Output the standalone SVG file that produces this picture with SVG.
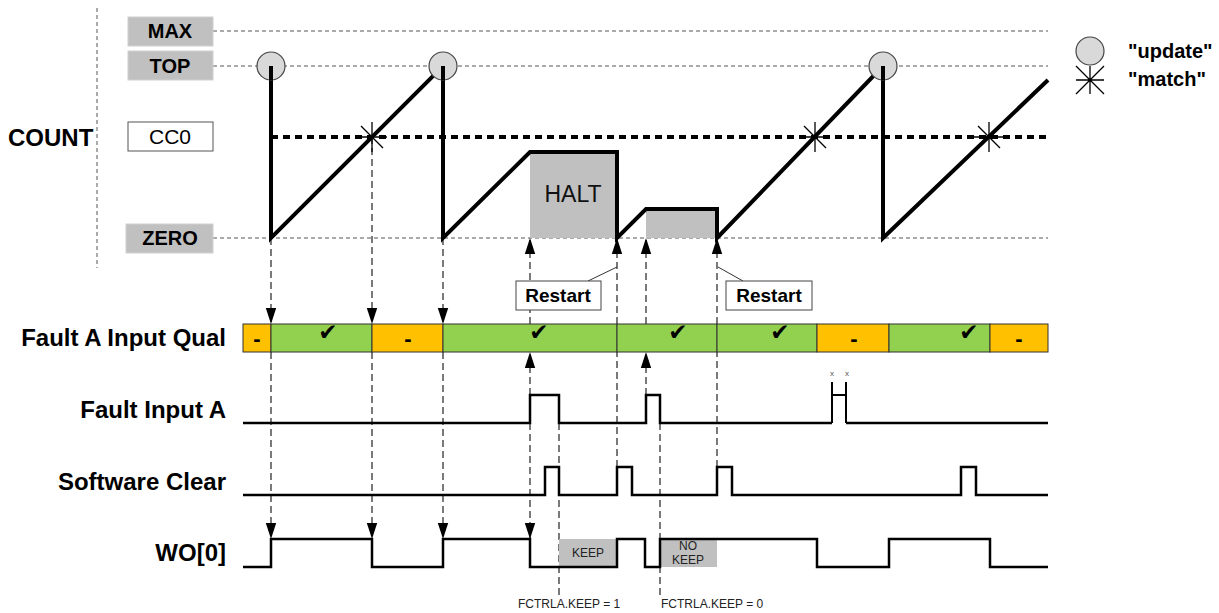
<svg xmlns="http://www.w3.org/2000/svg" width="1219" height="613" viewBox="0 0 1219 613">
<defs>
<marker id="ah" markerUnits="userSpaceOnUse" markerWidth="17" markerHeight="12" refX="16" refY="6" orient="auto">
<path d="M0,0.8 L16,6 L0,11.2 z" fill="#000"/>
</marker>
<style>
.ref{stroke:#555;stroke-width:1;stroke-dasharray:4 3;fill:none}
.conn{stroke:#333;stroke-width:1.3;stroke-dasharray:7 4;fill:none}
.wave{stroke:#000;stroke-width:4;fill:none;stroke-linejoin:miter}
.sig{stroke:#000;stroke-width:2.5;fill:none}
.lbl{font-family:"Liberation Sans",Arial,sans-serif;font-weight:bold;font-size:24px;fill:#000;text-anchor:end}
.lvl{font-family:"Liberation Sans",Arial,sans-serif;font-weight:bold;font-size:20px;text-anchor:middle;fill:#000}
.lvbox{fill:#c0c0c0;stroke:#d0d0d0;stroke-width:1}
.upd{fill:#d9d9d9;stroke:#444;stroke-width:1.2}
.star{stroke:#000;stroke-width:1.3}
.grn{fill:#92d050;stroke:#333;stroke-width:1}
.org{fill:#ffc000;stroke:#333;stroke-width:1}
.chk{font-family:"DejaVu Sans",sans-serif;font-size:23px;text-anchor:middle;fill:#000}
.dsh{font-family:"Liberation Sans",Arial,sans-serif;font-weight:bold;font-size:22px;text-anchor:middle;fill:#000}
.rst{fill:#fff;stroke:#444;stroke-width:1}
.rtx{font-family:"Liberation Sans",Arial,sans-serif;font-weight:bold;font-size:19px;text-anchor:middle;fill:#000}
.gray{fill:#c0c0c0}
.sm{font-family:"Liberation Sans",Arial,sans-serif;font-size:12px;fill:#222}
</style>
</defs>
<rect width="1219" height="613" fill="#fff"/>

<g id="axis">
<line x1="97" y1="8" x2="97" y2="268" class="ref"/>
<line x1="213" y1="31" x2="1048" y2="31" class="ref"/>
<line x1="213" y1="66" x2="1048" y2="66" class="ref"/>
<line x1="213" y1="238" x2="1048" y2="238" class="ref"/>
<text x="8" y="146" class="lbl" style="text-anchor:start">COUNT</text>
</g>

<g id="level-max"><rect x="128" y="17" width="85" height="29" class="lvbox"/><text x="170" y="38" class="lvl">MAX</text></g>
<g id="level-top"><rect x="128" y="51" width="85" height="29" class="lvbox"/><text x="170" y="73" class="lvl">TOP</text></g>
<g id="level-cc0"><rect x="128" y="122" width="85" height="29" fill="#fff" stroke="#555" stroke-width="1"/><text x="170" y="144" class="lvl" style="font-weight:normal;font-size:21px">CC0</text></g>
<g id="level-zero"><rect x="126" y="224" width="87" height="29" class="lvbox"/><text x="170" y="245" class="lvl">ZERO</text></g>

<g id="halt-areas">
<rect x="530" y="152" width="87" height="86" class="gray"/>
<text x="573" y="202" font-family="Liberation Sans, Arial, sans-serif" font-size="23" text-anchor="middle" fill="#111">HALT</text>
<rect x="646" y="209" width="71" height="29" class="gray"/>
</g>

<g id="connectors">
<line x1="271" y1="238" x2="271" y2="324" class="conn" marker-end="url(#ah)"/>
<line x1="271" y1="352" x2="271" y2="539" class="conn" marker-end="url(#ah)"/>
<line x1="372" y1="137" x2="372" y2="324" class="conn" marker-end="url(#ah)"/>
<line x1="372" y1="352" x2="372" y2="539" class="conn" marker-end="url(#ah)"/>
<line x1="443" y1="238" x2="443" y2="324" class="conn" marker-end="url(#ah)"/>
<line x1="443" y1="352" x2="443" y2="539" class="conn" marker-end="url(#ah)"/>
<line x1="530" y1="395" x2="530" y2="352" class="conn" marker-end="url(#ah)"/>
<line x1="530" y1="324" x2="530" y2="238" class="conn" marker-end="url(#ah)"/>
<line x1="530" y1="423" x2="530" y2="539" class="conn" marker-end="url(#ah)"/>
<line x1="559" y1="423" x2="559" y2="597" class="conn"/>
<line x1="617" y1="467" x2="617" y2="238" class="conn" marker-end="url(#ah)"/>
<line x1="646" y1="395" x2="646" y2="352" class="conn" marker-end="url(#ah)"/>
<line x1="646" y1="324" x2="646" y2="238" class="conn" marker-end="url(#ah)"/>
<line x1="660" y1="423" x2="660" y2="597" class="conn"/>
<line x1="717" y1="467" x2="717" y2="238" class="conn" marker-end="url(#ah)"/>
<line x1="617" y1="267" x2="588" y2="281" stroke="#333" stroke-width="1"/>
<line x1="718" y1="267" x2="743" y2="281" stroke="#333" stroke-width="1"/>
</g>

<g id="cc0-line">
<line x1="271" y1="137" x2="1048" y2="137" stroke="#000" stroke-width="4" stroke-dasharray="7 5"/>
</g>

<g id="count-wave">
<path class="wave" d="M271,66 L271,238 L443,66 L443,238 L530,152 L617,152 L617,238 L646,209 L717,209 L717,238 L883,66 L883,238 L1048,80"/>
</g>

<g id="updates">
<circle cx="271" cy="66" r="14" class="upd"/>
<circle cx="443" cy="66" r="14" class="upd"/>
<circle cx="883" cy="66" r="14" class="upd"/>
<path d="M271,66 L271,80 M443,66 L443,80 M883,66 L883,80" stroke="#000" stroke-width="4"/>
</g>

<g id="matches">
<path class="star" d="M372,122 V152 M357,137 H387 M361,126 L383,148 M361,148 L383,126"/>
<path class="star" d="M815,122 V152 M800,137 H830 M804,126 L826,148 M804,148 L826,126"/>
<path class="star" d="M989,122 V152 M974,137 H1004 M978,126 L1000,148 M978,148 L1000,126"/>
</g>

<g id="legend">
<circle cx="1090" cy="51" r="14" class="upd"/>
<path class="star" d="M1090,66 V94 M1076,80 H1104 M1076,66 L1104,94 M1076,94 L1104,66"/>
<text x="1128" y="58" font-family="Liberation Sans, Arial, sans-serif" font-weight="bold" font-size="20">"update"</text>
<text x="1128" y="86" font-family="Liberation Sans, Arial, sans-serif" font-weight="bold" font-size="20">"match"</text>
</g>

<g id="restart-1"><rect x="516" y="281" width="85" height="29" class="rst"/><text x="558" y="302" class="rtx">Restart</text></g>
<g id="restart-2"><rect x="726" y="281" width="86" height="29" class="rst"/><text x="769" y="302" class="rtx">Restart</text></g>

<g id="fault-a-input-qual">
<text x="226" y="346" class="lbl">Fault A Input Qual</text>
<rect x="243" y="324" width="28" height="28" class="org"/>
<rect x="271" y="324" width="101" height="28" class="grn"/>
<rect x="372" y="324" width="71" height="28" class="org"/>
<rect x="443" y="324" width="174" height="28" class="grn"/>
<rect x="617" y="324" width="100" height="28" class="grn"/>
<rect x="717" y="324" width="100" height="28" class="grn"/>
<rect x="817" y="324" width="72" height="28" class="org"/>
<rect x="889" y="324" width="101" height="28" class="grn"/>
<rect x="990" y="324" width="58" height="28" class="org"/>
<text x="328" y="340" class="chk">✔</text>
<text x="539" y="340" class="chk">✔</text>
<text x="678" y="340" class="chk">✔</text>
<text x="780" y="340" class="chk">✔</text>
<text x="969" y="340" class="chk">✔</text>
<text x="257" y="346" class="dsh">-</text>
<text x="408" y="346" class="dsh">-</text>
<text x="854" y="346" class="dsh">-</text>
<text x="1019" y="346" class="dsh">-</text>
</g>

<g id="fault-input-a">
<text x="226" y="418" class="lbl">Fault Input A</text>
<path class="sig" d="M243,423 H530 V395 H559 V423 H646 V395 H660 V423 H832 M846,423 H1048"/>
<path class="sig" style="stroke-width:2" d="M832,423 V382 M832,395 H846 M846,382 V423"/>
<text x="832" y="376" font-family="Liberation Sans, Arial, sans-serif" font-size="8" fill="#555" text-anchor="middle">x</text>
<text x="847" y="376" font-family="Liberation Sans, Arial, sans-serif" font-size="8" fill="#555" text-anchor="middle">x</text>
</g>

<g id="software-clear">
<text x="226" y="490" class="lbl">Software Clear</text>
<path class="sig" d="M243,495 H545 V467 H559 V495 H617 V467 H632 V495 H717 V467 H732 V495 H961 V467 H976 V495 H1048"/>
</g>

<g id="wo0">
<text x="226" y="561" class="lbl">WO[0]</text>
<rect x="559" y="539" width="58" height="28" class="gray"/>
<text x="588" y="557" class="sm" text-anchor="middle">KEEP</text>
<rect x="660" y="539" width="57" height="28" class="gray"/>
<text x="688" y="550" class="sm" text-anchor="middle">NO</text>
<text x="688" y="564" class="sm" text-anchor="middle">KEEP</text>
<path class="sig" d="M243,567 H271 V539 H372 V567 H443 V539 H530 V567 H617 V539 H645 V567 H660 V539 H817 V567 H889 V539 H990 V567 H1048"/>
</g>

<g id="keep-notes">
<text x="518" y="608" class="sm">FCTRLA.KEEP = 1</text>
<text x="661" y="608" class="sm">FCTRLA.KEEP = 0</text>
</g>
</svg>
